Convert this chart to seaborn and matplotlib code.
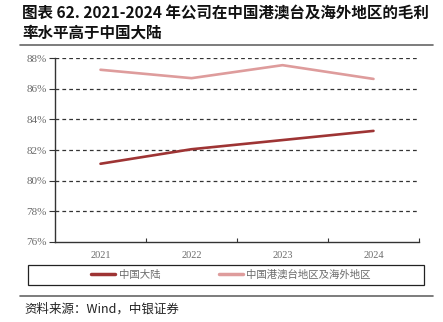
import matplotlib
matplotlib.use("Agg")
import matplotlib.pyplot as plt
from matplotlib.lines import Line2D
from matplotlib.patches import Rectangle
import seaborn as sns
import pandas as pd

years = ["2021", "2022", "2023", "2024"]
mainland = [81.1, 82.05, 82.65, 83.25]
overseas = [87.25, 86.7, 87.55, 86.65]
series_names = ["中国大陆", "中国港澳台地区及海外地区"]
series_colors = ["#9E3434", "#DE9C9C"]
y_ticks = [76, 78, 80, 82, 84, 86, 88]

sns.set_theme(style="white")
plt.rcParams["font.family"] = ["Noto Sans CJK SC", "DejaVu Sans"]

df = pd.DataFrame({
    "year": years * 2,
    "value": mainland + overseas,
    "series": [series_names[0]] * 4 + [series_names[1]] * 4,
})

fig = plt.figure(figsize=(4.43, 3.22), dpi=100)
W, H = 443, 322
ax = fig.add_axes([55 / W, 1 - 241.7 / H, (419 - 55) / W, (241.7 - 58.3) / H])

sns.lineplot(data=df, x="year", y="value", hue="series", palette=series_colors,
             linewidth=1.9, ax=ax, legend=False, sort=False)

ax.set_xlim(-0.5, 3.5)
ax.set_ylim(76, 88)
ax.set_yticks(y_ticks)
ax.set_yticklabels([f"{v}%" for v in y_ticks], family="Liberation Serif",
                   fontsize=8, color="#6b6b6b")
ax.set_xticks(range(len(years)))
ax.set_xticklabels(years, family="Liberation Serif", fontsize=7.5, color="#6b6b6b")
ax.set_xlabel("")
ax.set_ylabel("")

# dashed horizontal grid
for v in y_ticks[1:]:
    ax.axhline(v, color="#333333", linestyle=(0, (3, 2.5)), linewidth=0.9, zorder=0)

for side in ["top", "right"]:
    ax.spines[side].set_visible(False)
for side in ["left", "bottom"]:
    ax.spines[side].set_color("#333333")
    ax.spines[side].set_linewidth(1.0)

ax.tick_params(axis="y", which="major", length=4, width=0.8, color="#333333",
               direction="out", left=True, pad=2)
ax.tick_params(axis="x", which="major", length=0, pad=7)
# category-boundary ticks pointing up from the bottom axis
ax.set_xticks([0.5, 1.5, 2.5, 3.5], minor=True)
ax.tick_params(axis="x", which="minor", length=3, width=0.8, color="#333333",
               direction="in", bottom=True)

# legend: framed box spanning the figure, entries placed inside
fig.add_artist(Rectangle((28 / W, 1 - 284.5 / H), (424 - 28) / W, 19.5 / H,
                         transform=fig.transFigure, fill=False,
                         edgecolor="#222222", linewidth=0.9))
handles = [Line2D([], [], color=c, linewidth=2.5) for c in series_colors]
leg = fig.legend(handles, series_names, loc="center left", ncol=2,
                 bbox_to_anchor=(84 / W, 1 - 275 / H), frameon=False,
                 fontsize=7.5, handlelength=2.3, handletextpad=0.35,
                 columnspacing=5.6, borderpad=0.2)
for t in leg.get_texts():
    t.set_color("#6b6b6b")

# title and rules
fig.text(22 / W, 1 - 14 / H, "图表 62. 2021-2024 年公司在中国港澳台及海外地区的毛利",
         fontsize=11.2, fontweight="bold", color="#111111", va="center", ha="left")
fig.text(22 / W, 1 - 33 / H, "率水平高于中国大陆",
         fontsize=11.2, fontweight="bold", color="#111111", va="center", ha="left")
fig.add_artist(Line2D([20 / W, 433 / W], [1 - 45 / H, 1 - 45 / H],
                      color="#666666", linewidth=1.2))
fig.add_artist(Line2D([20 / W, 433 / W], [1 - 296 / H, 1 - 296 / H],
                      color="#666666", linewidth=1.2))
fig.text(24 / W, 1 - 309 / H, "资料来源：Wind，中银证券", fontsize=9,
         style="italic", color="#222222", va="center", ha="left")

fig.savefig("out.png", dpi=100)
